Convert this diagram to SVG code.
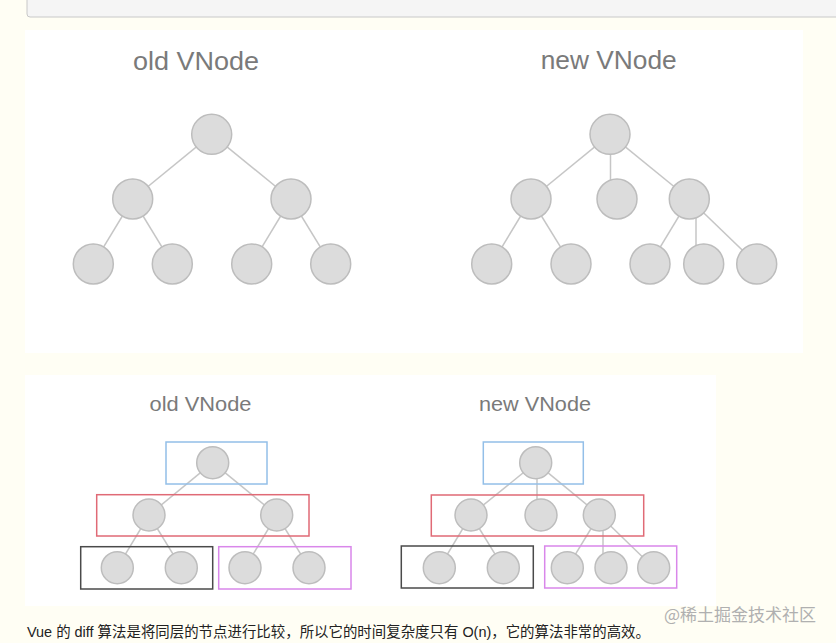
<svg xmlns="http://www.w3.org/2000/svg" width="836" height="643" viewBox="0 0 836 643">
<style>
.bg{fill:#fffef4}
.panel{fill:#ffffff}
.n{fill:#dcdcdc;stroke:#bdbdbd;stroke-width:1.5}
.e{stroke:#c6c6c6;stroke-width:1.5;fill:none}
.t{font-family:"Liberation Sans",Arial,sans-serif;fill:#7a7a7a;text-anchor:middle}
.box{fill:none;stroke-width:1.5}
.blue{stroke:#93bfe8}
.red{stroke:#e06a76}
.black{stroke:#4a4a4a}
.pink{stroke:#d987ea}
.cap{font-family:"Liberation Sans","Noto Sans CJK SC",sans-serif;font-size:14.5px;fill:#222222}
.wm{font-family:"Noto Sans CJK SC",sans-serif;font-size:17px;fill:#b0b0b0;text-anchor:end}
</style>
<rect class="bg" x="0" y="0" width="836" height="643"/>
<rect x="27" y="-10" width="830" height="27" rx="3" fill="#f5f5f5" stroke="#c8c8c8" stroke-width="1"/>
<rect class="panel" x="25" y="30" width="778" height="323"/>
<rect class="panel" x="25" y="375" width="691" height="231"/>

<g id="connectors">
  <line class="e" x1="211.7" y1="134.3" x2="132.7" y2="199"/>
  <line class="e" x1="211.7" y1="134.3" x2="291" y2="199"/>
  <line class="e" x1="132.7" y1="199" x2="93.3" y2="264"/>
  <line class="e" x1="132.7" y1="199" x2="172.3" y2="264"/>
  <line class="e" x1="291" y1="199" x2="251.7" y2="264"/>
  <line class="e" x1="291" y1="199" x2="330.7" y2="264"/>
  <line class="e" x1="610" y1="134.3" x2="531" y2="199"/>
  <line class="e" x1="610.5" y1="134.3" x2="610.5" y2="199"/>
  <line class="e" x1="610" y1="134.3" x2="689.3" y2="199"/>
  <line class="e" x1="531" y1="199" x2="491.7" y2="264"/>
  <line class="e" x1="531" y1="199" x2="571" y2="264"/>
  <line class="e" x1="689.3" y1="199" x2="650" y2="264"/>
  <line class="e" x1="696" y1="199" x2="696" y2="264"/>
  <line class="e" x1="689.3" y1="199" x2="756.7" y2="264"/>
  <line class="e" x1="212.7" y1="462.7" x2="149" y2="515"/>
  <line class="e" x1="212.7" y1="462.7" x2="276.7" y2="515"/>
  <line class="e" x1="149" y1="515" x2="117.3" y2="567.7"/>
  <line class="e" x1="149" y1="515" x2="181.3" y2="567.7"/>
  <line class="e" x1="276.7" y1="515" x2="245" y2="567.7"/>
  <line class="e" x1="276.7" y1="515" x2="309" y2="567.7"/>
  <line class="e" x1="535.7" y1="462.7" x2="471" y2="515"/>
  <line class="e" x1="537" y1="462.7" x2="537" y2="515"/>
  <line class="e" x1="535.7" y1="462.7" x2="599.3" y2="515"/>
  <line class="e" x1="471" y1="515" x2="439.3" y2="567.7"/>
  <line class="e" x1="471" y1="515" x2="503.3" y2="567.7"/>
  <line class="e" x1="599.3" y1="515" x2="567.3" y2="567.7"/>
  <line class="e" x1="603" y1="515" x2="603" y2="567.7"/>
  <line class="e" x1="599.3" y1="515" x2="653.7" y2="567.7"/>
</g>

<g id="top-old">
  <text class="t" x="196" y="70" font-size="26" textLength="126" lengthAdjust="spacingAndGlyphs">old VNode</text>
  <circle class="n" cx="211.7" cy="134.3" r="20"/>
  <circle class="n" cx="132.7" cy="199" r="20"/>
  <circle class="n" cx="291" cy="199" r="20"/>
  <circle class="n" cx="93.3" cy="264" r="20"/>
  <circle class="n" cx="172.3" cy="264" r="20"/>
  <circle class="n" cx="251.7" cy="264" r="20"/>
  <circle class="n" cx="330.7" cy="264" r="20"/>
</g>

<g id="top-new">
  <text class="t" x="608.7" y="69" font-size="26" textLength="136" lengthAdjust="spacingAndGlyphs">new VNode</text>
  <circle class="n" cx="610" cy="134.3" r="20"/>
  <circle class="n" cx="531" cy="199" r="20"/>
  <circle class="n" cx="617" cy="199" r="20"/>
  <circle class="n" cx="689.3" cy="199" r="20"/>
  <circle class="n" cx="491.7" cy="264" r="20"/>
  <circle class="n" cx="571" cy="264" r="20"/>
  <circle class="n" cx="650" cy="264" r="20"/>
  <circle class="n" cx="703.7" cy="264" r="20"/>
  <circle class="n" cx="756.7" cy="264" r="20"/>
</g>

<g id="bottom-old">
  <text class="t" x="200.5" y="411" font-size="21" textLength="102" lengthAdjust="spacingAndGlyphs">old VNode</text>
  <rect class="box blue" x="166" y="442" width="101" height="42"/>
  <rect class="box red" x="96.7" y="494.7" width="212.3" height="41.3"/>
  <rect class="box black" x="80.7" y="546.7" width="132" height="42.3"/>
  <rect class="box pink" x="218.7" y="546.7" width="132.3" height="42.3"/>
  <circle class="n" cx="212.7" cy="462.7" r="16"/>
  <circle class="n" cx="149" cy="515" r="16"/>
  <circle class="n" cx="276.7" cy="515" r="16"/>
  <circle class="n" cx="117.3" cy="567.7" r="16"/>
  <circle class="n" cx="181.3" cy="567.7" r="16"/>
  <circle class="n" cx="245" cy="567.7" r="16"/>
  <circle class="n" cx="309" cy="567.7" r="16"/>
</g>

<g id="bottom-new">
  <text class="t" x="535" y="411" font-size="21" textLength="112" lengthAdjust="spacingAndGlyphs">new VNode</text>
  <rect class="box blue" x="483.3" y="442" width="100" height="42"/>
  <rect class="box red" x="431.3" y="495" width="212.4" height="41"/>
  <rect class="box black" x="401.3" y="546" width="132" height="42"/>
  <rect class="box pink" x="544.7" y="546" width="132" height="42"/>
  <circle class="n" cx="535.7" cy="462.7" r="16"/>
  <circle class="n" cx="471" cy="515" r="16"/>
  <circle class="n" cx="541" cy="515" r="16"/>
  <circle class="n" cx="599.3" cy="515" r="16"/>
  <circle class="n" cx="439.3" cy="567.7" r="16"/>
  <circle class="n" cx="503.3" cy="567.7" r="16"/>
  <circle class="n" cx="567.3" cy="567.7" r="16"/>
  <circle class="n" cx="611" cy="567.7" r="16"/>
  <circle class="n" cx="653.7" cy="567.7" r="16"/>
</g>

<text class="wm" x="816" y="621">@稀土掘金技术社区</text>
<text class="cap" x="27" y="637" textLength="623" lengthAdjust="spacingAndGlyphs">Vue 的 diff 算法是将同层的节点进行比较，所以它的时间复杂度只有 O(n)，它的算法非常的高效。</text>
</svg>
